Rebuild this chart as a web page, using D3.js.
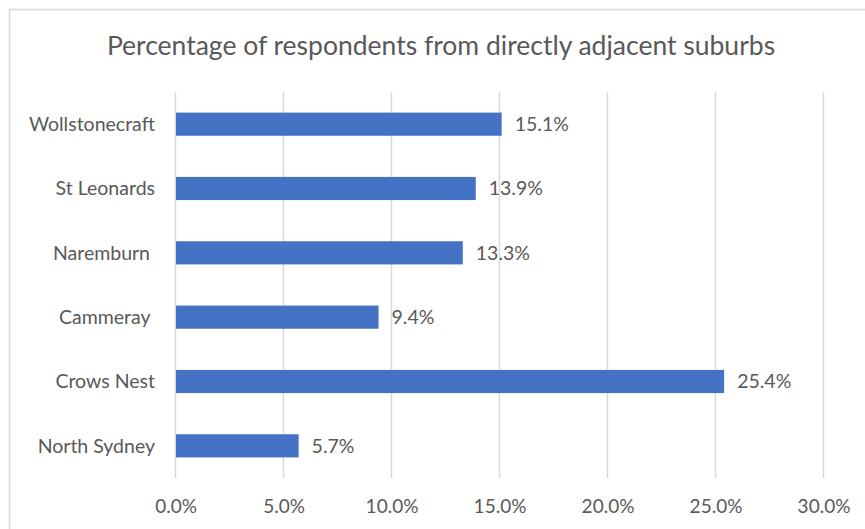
<!DOCTYPE html>
<html>
<head>
<meta charset="utf-8">
<script src="https://cdn.jsdelivr.net/npm/d3@7"></script>
<style>
  body { margin: 0; background: #fff; }
  text { font-family: Lato, "Open Sans", sans-serif; fill: #595959; white-space: pre; }
</style>
</head>
<body>
<div id="chart"></div>
<script>
const containerWidth = 865;
const containerHeight = 529;

// data
const suburbs = ["Wollstonecraft", "St Leonards", "Naremburn ", "Cammeray ", "Crows Nest", "North Sydney"];
const percentages = [15.1, 13.9, 13.3, 9.4, 25.4, 5.7];
const xTicks = [0, 5, 10, 15, 20, 25, 30];
const chartTitle = "Percentage of respondents from directly adjacent suburbs";

const svg = d3.select("#chart")
              .append('svg')
              .attr('width', containerWidth)
              .attr('height', containerHeight);

// chart frame
svg.append('rect')
   .attr('x', 9.5)
   .attr('y', 9.5)
   .attr('width', containerWidth + 20)
   .attr('height', containerHeight + 20)
   .attr('fill', '#fff')
   .attr('stroke', '#d9d9d9')
   .attr('stroke-width', 1.5);

// title
svg.append('text')
   .attr('x', 441)
   .attr('y', 55)
   .attr('text-anchor', 'middle')
   .style('font-size', '26.5px')
   .text(chartTitle);

const plotLeft = 175.5, plotRight = 823.5, plotTop = 92, plotBottom = 478;

const x = d3.scaleLinear()
            .domain([0, 30])
            .range([plotLeft, plotRight]);

const y = d3.scaleBand()
            .domain(suburbs)
            .range([plotTop, plotBottom])
            .paddingInner(0.64)
            .paddingOuter(0.32);

// gridlines
svg.append('g')
   .selectAll('line')
   .data(xTicks)
   .enter()
   .append('line')
   .attr('x1', d => x(d))
   .attr('x2', d => x(d))
   .attr('y1', plotTop)
   .attr('y2', plotBottom)
   .attr('stroke', '#d9d9d9')
   .attr('stroke-width', 1.5);

// bars
svg.selectAll('rect.bar')
   .data(suburbs)
   .enter()
   .append('rect')
   .attr('class', 'bar')
   .attr('x', x(0) + 0.5)
   .attr('y', d => y(d))
   .attr('width', (d, i) => x(percentages[i]) - x(0) - 0.5)
   .attr('height', y.bandwidth())
   .attr('fill', '#4472c4');

// value labels
svg.selectAll('text.value')
   .data(suburbs)
   .enter()
   .append('text')
   .attr('class', 'value')
   .attr('x', (d, i) => x(percentages[i]) + 13)
   .attr('y', d => y(d) + y.bandwidth() / 2)
   .attr('dy', '0.35em')
   .style('font-size', '19.5px')
   .text((d, i) => percentages[i].toFixed(1) + '%');

// category labels
svg.selectAll('text.cat')
   .data(suburbs)
   .enter()
   .append('text')
   .attr('class', 'cat')
   .attr('x', 155)
   .attr('y', d => y(d) + y.bandwidth() / 2)
   .attr('dy', '0.35em')
   .attr('text-anchor', 'end')
   .style('font-size', '19.5px')
   .text(d => d);

// x axis labels
const xAxis = d3.axisBottom(x)
                .tickValues(xTicks)
                .tickSize(0)
                .tickPadding(0)
                .tickFormat(d => d.toFixed(1) + '%');

const gx = svg.append('g')
              .attr('transform', 'translate(0,' + 506 + ')')
              .call(xAxis);
gx.select('.domain').remove();
gx.selectAll('text')
  .attr('y', 0)
  .attr('dy', '0.35em')
  .style('font-size', '19px')
  .style('font-family', 'Lato, "Open Sans", sans-serif')
  .attr('fill', '#595959');
</script>
</body>
</html>
